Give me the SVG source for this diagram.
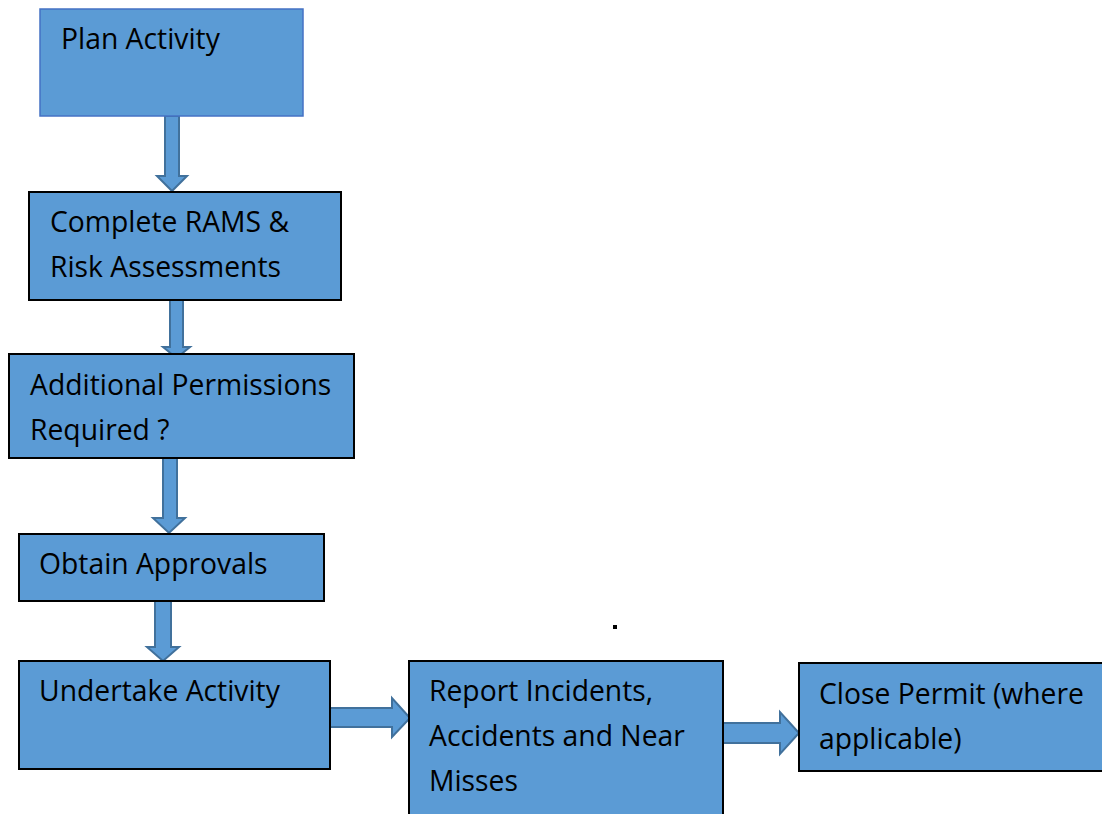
<svg xmlns="http://www.w3.org/2000/svg" width="1102" height="814" viewBox="0 0 1102 814">
<style>
.box{fill:#5B9BD5;stroke:#000;stroke-width:2}
.box0{fill:#5B9BD5;stroke:#4472C4;stroke-width:1.5}
.arr{fill:#5B9BD5;stroke:#41719C;stroke-width:2;stroke-linejoin:miter}
text{font-family:"Open Sans","Liberation Sans",sans-serif;font-size:28.3px;fill:#000}
</style>
<rect width="1102" height="814" fill="#fff"/>
<g id="connectors">
<polygon class="arr" points="165,116 179,116 179,176 187,176 172,191 157,176 165,176"/>
<polygon class="arr" points="170,300 183,300 183,347 190,347 176.5,358 163,347 170,347"/>
<polygon class="arr" points="163,458 177,458 177,518 185,518 169,533 153,518 163,518"/>
<polygon class="arr" points="155,601 171,601 171,647 179,647 163,661 147,647 155,647"/>
<polygon class="arr" points="330,708 392,708 392,698 410,718 392,737 392,727 330,727"/>
<polygon class="arr" points="723,723 780,723 780,712 799,733 780,754 780,743 723,743"/>
</g>
<g id="plan"><rect class="box0" x="40" y="9" width="263" height="107"/><text x="61" y="49">Plan Activity</text></g>
<g id="rams"><rect class="box" x="29" y="192" width="312" height="108"/><text x="50" y="232">Complete RAMS &amp;</text><text x="50" y="277">Risk Assessments</text></g>
<g id="permissions"><rect class="box" x="9" y="354" width="345" height="104"/><text x="30" y="395">Additional Permissions</text><text x="30" y="440">Required ?</text></g>
<g id="approvals"><rect class="box" x="19" y="534" width="305" height="67"/><text x="39" y="574">Obtain Approvals</text></g>
<g id="undertake"><rect class="box" x="19" y="661" width="311" height="108"/><text x="39" y="701">Undertake Activity</text></g>
<g id="report"><rect class="box" x="409" y="661" width="314" height="160"/><text x="429" y="701">Report Incidents,</text><text x="429" y="746">Accidents and Near</text><text x="429" y="791">Misses</text></g>
<g id="close"><rect class="box" x="799" y="663" width="310" height="108"/><text x="819" y="704">Close Permit (where</text><text x="819" y="749">applicable)</text></g>
<rect x="613" y="625" width="4" height="4" fill="#000"/>
</svg>
